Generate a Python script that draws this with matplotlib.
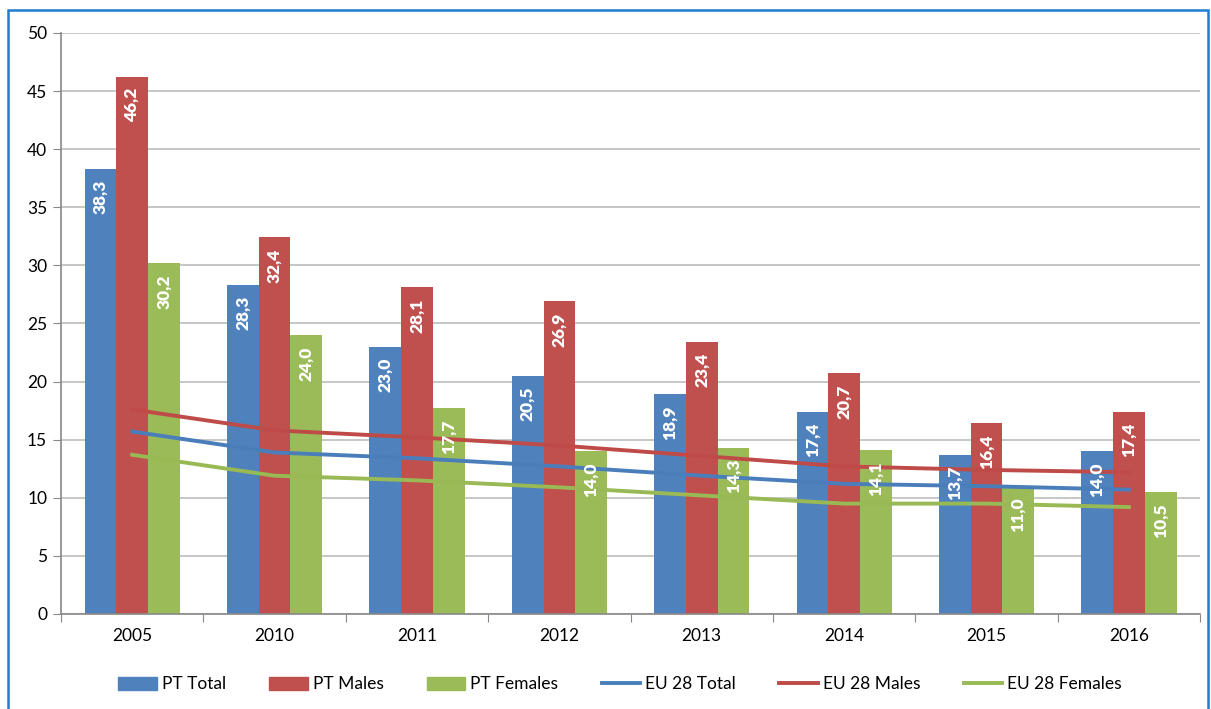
import numpy as np
from matplotlib import pyplot as plt
from matplotlib.patches import Rectangle, Patch
from matplotlib.lines import Line2D

plt.rcParams['font.family'] = ['Lato', 'DejaVu Sans']

years = ['2005', '2010', '2011', '2012', '2013', '2014', '2015', '2016']
pt_total = [38.3, 28.3, 23.0, 20.5, 18.9, 17.4, 13.7, 14.0]
pt_males = [46.2, 32.4, 28.1, 26.9, 23.4, 20.7, 16.4, 17.4]
pt_females = [30.2, 24.0, 17.7, 14.0, 14.3, 14.1, 11.0, 10.5]
eu_total = [15.7, 13.9, 13.4, 12.7, 11.9, 11.2, 11.0, 10.7]
eu_males = [17.6, 15.8, 15.2, 14.5, 13.6, 12.7, 12.4, 12.2]
eu_females = [13.7, 11.9, 11.5, 10.9, 10.2, 9.5, 9.5, 9.2]

blue, red, green = '#4F81BD', '#C0504D', '#9BBB59'

fig = plt.figure(figsize=(12.11, 7.09), dpi=100)
ax = fig.add_axes([0.0504, 0.134, 0.9406, 0.8195])

x = np.arange(len(years))
w = 0.223
bars = [(pt_total, blue, 'PT Total'), (pt_males, red, 'PT Males'), (pt_females, green, 'PT Females')]
for i, (vals, col, name) in enumerate(bars):
    pos = x + (i - 1) * w
    ax.bar(pos, vals, width=w, color=col, zorder=2)
    for p, v in zip(pos, vals):
        ax.annotate(f'{v:.1f}'.replace('.', ','), (p, v), xytext=(0, -8),
                    textcoords='offset points', rotation=90, ha='center', va='top',
                    color='white', fontsize=12.5, fontweight='heavy', zorder=4)

lines = [(eu_total, '#4A7EBB', 'EU 28 Total'), (eu_males, '#BE4B48', 'EU 28 Males'),
         (eu_females, '#98B954', 'EU 28 Females')]
for vals, col, name in lines:
    ax.plot(x, vals, color=col, lw=2.8, zorder=3)

ax.set_xlim(-0.5, len(years) - 0.5)
ax.set_ylim(0, 50)
ax.set_yticks(range(0, 51, 5))
ax.yaxis.grid(True, color='#BDBDBD', lw=1.2, zorder=0)
ax.set_axisbelow(True)
ax.set_xticks(np.arange(-0.5, len(years), 1))
ax.set_xticklabels([])
ax.set_xticks(x, minor=True)
ax.set_xticklabels(years, minor=True)
ax.tick_params(axis='x', which='minor', length=0, pad=10, labelsize=12.5)
ax.tick_params(axis='x', which='major', length=6, color='#888888')
ax.tick_params(axis='y', length=6, color='#888888', labelsize=12.5, pad=4)
for s in ['top', 'right']:
    ax.spines[s].set_visible(False)
for s in ['left', 'bottom']:
    ax.spines[s].set_color('#888888')
    ax.spines[s].set_linewidth(1.2)

handles = [Patch(color=c, label=n) for _, c, n in bars] + \
          [Line2D([0], [0], color=c, lw=2.8, label=n) for _, c, n in lines]
fig.legend(handles=handles, loc='center', bbox_to_anchor=(0.512, 0.035), ncol=6,
           frameon=False, fontsize=12.5, handlelength=2.2, handleheight=0.8,
           handletextpad=0.3, columnspacing=2.5)

fig.add_artist(Rectangle((8 / 1211, -0.01), 1200 / 1211, 0.986 + 0.01,
                         transform=fig.transFigure, fill=False,
                         edgecolor='#1F7CD1', lw=1.8))

fig.savefig('out.png', dpi=100)
